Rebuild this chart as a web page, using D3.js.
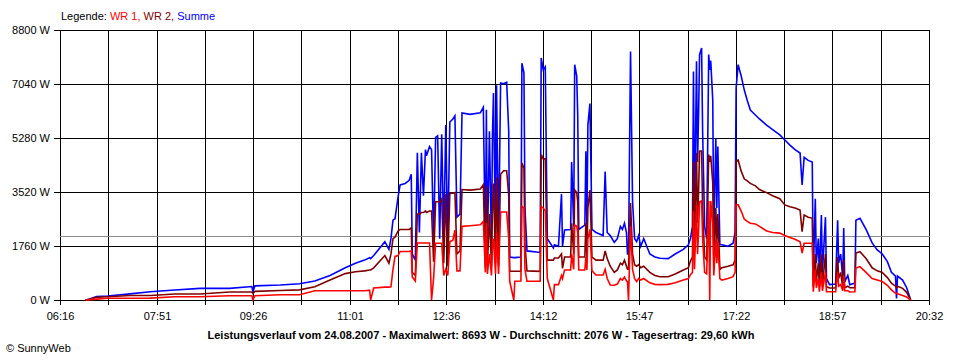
<!DOCTYPE html>
<html><head><meta charset="utf-8">
<script src="https://cdn.jsdelivr.net/npm/d3@7"></script>
<style>
body{margin:0;background:#fff;}
svg{display:block;font-family:"Liberation Sans",Arial,sans-serif;}
</style></head><body>
<svg id="c" width="960" height="360"></svg>
<script>
const times=["06:41","06:44","06:52","07:03","07:25","07:45","08:09","08:34","09:03","09:25","09:26","09:28","09:53","10:12","10:27","10:42","10:57","11:07",
"11:16","11:21","11:22","11:25","11:36","11:40","11:42","11:44","11:46","11:49","11:51","11:56","12:00","12:02","12:03","12:06","12:08","12:10","12:12","12:14","12:16","12:17","12:20","12:22","12:24","12:26","12:28","12:30","12:32","12:34","12:36","12:38","12:40","12:43","12:45","12:47","12:50","12:52",
"13:00","13:10","13:13","13:15","13:16","13:17","13:19","13:21","13:22","13:23","13:25","13:26","13:28","13:30","13:33","13:36","13:38","13:39","13:43","13:44","13:50","13:51","13:53","13:54","13:56","14:09","14:10","14:12","14:14","14:16","14:22","14:23","14:27","14:30",
"14:31","14:33","14:39","14:40","14:42","14:43","14:45","14:46","14:47","14:53","14:54","14:55","14:56","14:58","15:00","15:04","15:11","15:13","15:15","15:18","15:22","15:25","15:28","15:30","15:32","15:34","15:35","15:36","15:38","15:40","15:42","15:44","15:46","15:48","15:51","15:57","16:02","16:07","16:15","16:22","16:30","16:35",
"16:37","16:39","16:40","16:41","16:43","16:44","16:45","16:46","16:48","16:49","16:51","16:53","16:55","16:56","16:57","16:59","17:00","17:02","17:03","17:04","17:06","17:08","17:14","17:19","17:21","17:22","17:24","17:27","17:30","17:33","17:36","17:41","17:45","17:52","17:58","18:05","18:10","18:15","18:20","18:25","18:27","18:29","18:33","18:37",
"18:38","18:40","18:41","18:43","18:44","18:46","18:47","18:50","18:51","18:54","19:00","19:02","19:03","19:05","19:07","19:08","19:09","19:12","19:14","19:19","19:20","19:24","19:30","19:36","19:41","19:46","19:51","19:55","19:59","20:00","20:01","20:06","20:10","20:13","20:14"];

const summe=[0,20,110,130,200,270,326,380,380,440,270,460,490,530,620,800,1050,1200,
1300,1380,1350,1450,1900,1650,2000,2600,2650,3350,3750,3800,3900,4100,1500,1300,4800,2200,4800,3400,4900,4700,5000,4900,1900,5300,5350,2000,5400,2000,5700,1900,5800,5900,6000,2700,2800,6100,
6050,6100,6280,1640,6200,1700,5500,1800,5400,6750,2000,7000,1800,7070,7050,7100,5500,1400,1380,1380,1400,7720,7400,3000,1600,1550,7890,7500,7600,2000,1700,1800,1750,3450,
1750,2280,2300,4500,2400,7670,7300,6000,2300,2440,4850,2400,5700,6400,2300,2200,2100,4190,2200,2100,1880,2000,2400,2300,2500,2200,1500,1500,8100,3200,2000,1900,2100,1750,2000,1500,1400,1360,1350,1500,1650,1800,
2000,2400,7450,2500,7780,4500,6000,8000,8210,5500,2400,2000,8000,7500,7800,6500,2000,5280,3000,5000,1800,1800,1750,1850,2200,6900,7670,7300,6850,6500,6190,6030,5900,5700,5550,5380,5215,5050,4900,4790,3750,4650,4550,4500,
760,3300,1200,2000,700,2770,900,2700,700,500,520,2600,1200,1500,700,2350,600,800,500,550,2600,2660,2300,1860,1630,1500,1250,900,780,50,780,650,400,100,0];

const wr2=[0,15,90,108,146,146,195,195,260,260,220,280,310,330,430,650,860,920,
950,980,980,1050,1450,1200,1500,2000,2050,2250,2300,2300,2300,2350,900,800,2800,2800,2850,2850,2900,2850,2900,2900,1250,3200,3200,3200,3300,1200,3450,1100,3480,3480,3500,1500,1600,3600,
3580,3620,3760,1040,3700,1100,2800,1100,3000,3800,1200,4000,1100,4100,4215,4215,3400,940,935,935,940,4465,4300,1800,950,935,4740,4600,4600,1300,1300,1370,1370,1500,
1030,1400,1400,2500,1500,3585,3500,3200,1400,1400,2500,1400,3000,3585,1400,1300,1300,1600,1350,1100,900,980,1200,1150,1300,1100,1000,1000,3160,1500,1150,1100,1150,1050,1100,900,800,760,760,850,980,1050,
1270,1400,4500,1600,4800,2500,3500,4855,4855,3000,1400,1300,4740,4500,4700,3800,1200,3000,1800,2800,1000,1050,1100,1150,1300,4520,4560,4200,3950,3880,3800,3720,3600,3500,3400,3300,3100,3040,3000,2930,2225,2770,2700,2670,
430,1500,600,1200,430,1500,450,1500,430,390,390,1400,700,900,400,1300,400,450,400,400,1530,1575,1350,1050,950,900,730,550,450,400,450,380,250,50,0];

const wr1=[0,5,30,55,55,60,108,108,140,140,10,140,173,173,300,303,303,303,
303,320,0,390,420,420,430,1000,1420,1450,1580,1580,1580,1600,750,620,1860,1860,1860,1860,1860,1860,1860,0,700,1850,1850,1850,1850,800,1000,800,1900,1950,2280,950,950,2400,
2420,2450,2560,900,2500,850,1500,800,1800,2000,850,2200,850,2870,2870,2870,2000,610,0,610,620,3050,3000,1000,610,610,3050,3000,2900,700,0,500,500,800,
700,980,980,1500,1000,2440,2400,2200,980,980,1400,980,2000,2300,950,815,815,1000,700,490,480,520,700,650,750,620,600,0,2400,1000,700,600,700,650,700,560,510,500,510,560,650,700,
825,900,2900,1000,3100,1500,2200,3200,3230,2000,900,850,3230,0,3230,2500,800,2000,1200,1900,700,650,700,760,900,3100,3100,2900,2640,2560,2500,2480,2400,2250,2200,2180,2100,2040,1980,1900,1530,1850,1850,1850,
270,1000,400,700,270,900,300,900,270,270,270,900,450,500,300,800,300,300,260,270,1040,1090,900,700,650,600,480,330,220,220,200,150,100,20,0];

const xTickLabels=["06:16","07:51","09:26","11:01","12:36","14:12","15:47","17:22","18:57","20:32"];
const yTickValues=[0,1760,3520,5280,7040,8800];
const startTime="06:16", endTime="20:32";
const averageW=2076;
const legendParts=[["Legende: ","#000000"],["WR 1, ","#ff0000"],["WR 2, ","#800000"],["Summe","#0000ff"]];
const titleText="Leistungsverlauf vom 24.08.2007 - Maximalwert: 8693 W - Durchschnitt: 2076 W - Tagesertrag: 29,60 kWh";

const parse=d3.timeParse("%H:%M");
const svg=d3.select("#c");
const L=60,R=929,T=30,B=300;
const x=d3.scaleTime().domain([parse(startTime),parse(endTime)]).range([L,R]);
const xr=x.copy().interpolate(d3.interpolateRound);
const y=d3.scaleLinear().domain([0,8800]).range([B,T]);

const t0=parse(startTime).getTime(), t1=parse(endTime).getTime();
const gridTimes=d3.range(19).map(i=>new Date(t0+(t1-t0)*i/18));

// grid
const g=svg.append("g").attr("shape-rendering","crispEdges");
g.selectAll("line.v").data(gridTimes).join("line")
 .attr("x1",d=>xr(d)+0.5).attr("x2",d=>xr(d)+0.5).attr("y1",T).attr("y2",B)
 .attr("stroke","#000").attr("stroke-width",1);
g.selectAll("line.h").data(yTickValues).join("line")
 .attr("x1",L).attr("x2",R+1).attr("y1",d=>Math.round(y(d))+0.5).attr("y2",d=>Math.round(y(d))+0.5)
 .attr("stroke","#000").attr("stroke-width",1);
g.append("line").attr("x1",L).attr("x2",R+1).attr("y1",Math.round(y(averageW))+0.5).attr("y2",Math.round(y(averageW))+0.5)
 .attr("stroke","#8c8c8c").attr("stroke-width",1);

// axes
const xAxis=d3.axisBottom(xr).tickValues(gridTimes).tickSize(5).tickSizeOuter(0).tickPadding(7)
 .tickFormat((d,i)=> i%2 ? "" : xTickLabels[i/2]);
const ax=svg.append("g").attr("transform",`translate(0,${B})`).call(xAxis);
ax.select(".domain").remove();
ax.selectAll("line").attr("stroke","#000");
ax.selectAll("text").attr("font-size",11).attr("fill","#000").attr("font-family","'Liberation Sans',Arial,sans-serif");

const yAxis=d3.axisLeft(y).tickValues(yTickValues).tickSize(6).tickSizeOuter(0).tickPadding(4).tickFormat(d=>d+" W");
const ay=svg.append("g").attr("transform",`translate(${L},0)`).call(yAxis);
ay.select(".domain").remove();
ay.selectAll("line").attr("stroke","#000");
ay.selectAll("text").attr("font-size",11).attr("fill","#000").attr("font-family","'Liberation Sans',Arial,sans-serif");

// series
const data=times.map((t,i)=>({t:parse(t),s:summe[i],a:wr1[i],b:wr2[i]}));
const mk=key=>d3.line().x(d=>x(d.t)).y(d=>y(d[key]));
svg.append("path").datum(data).attr("d",mk("s")).attr("fill","none").attr("stroke","#0000ff").attr("stroke-width",1.6);
svg.append("path").datum(data).attr("d",mk("b")).attr("fill","none").attr("stroke","#800000").attr("stroke-width",1.6);
svg.append("path").datum(data).attr("d",mk("a")).attr("fill","none").attr("stroke","#ff0000").attr("stroke-width",1.6);

// legend
const lg=svg.append("text").attr("x",61).attr("y",20).attr("font-size",11);
lg.selectAll("tspan").data(legendParts).join("tspan").attr("fill",d=>d[1]).attr("xml:space","preserve").text(d=>d[0]);

// title
svg.append("text").attr("x",481).attr("y",339).attr("text-anchor","middle").attr("font-size",11).attr("font-weight","bold").text(titleText);
svg.append("text").attr("x",6).attr("y",352).attr("font-size",11).text("\u00A9 SunnyWeb");
</script>
</body></html>
